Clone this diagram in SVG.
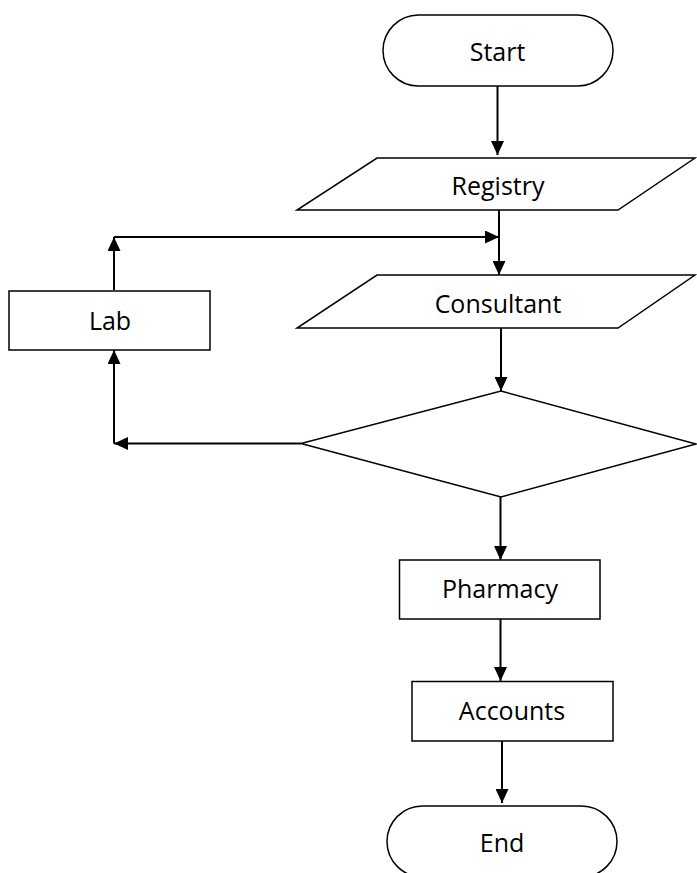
<svg xmlns="http://www.w3.org/2000/svg" width="697" height="873" viewBox="0 0 697 873">
<defs>
<style>
.s{fill:#fff;stroke:#000;stroke-width:1.5}
.t{font-family:"Open Sans","Liberation Sans",sans-serif;font-size:25px;fill:#000;text-anchor:middle}
.c{fill:none;stroke:#000;stroke-width:2}
</style>
<marker id="ah" viewBox="0 0 14 13" refX="14" refY="6.5" markerWidth="14" markerHeight="13" markerUnits="userSpaceOnUse" orient="auto">
<path d="M0,0 L14,6.5 L0,13 Z" fill="#000"/>
</marker>
</defs>
<rect width="697" height="873" fill="#fff"/>
<g id="connectors">
<path class="c" d="M497.5,86 V155" marker-end="url(#ah)"/>
<path class="c" d="M499,210 V275" marker-end="url(#ah)"/>
<path class="c" d="M114,290 V237" marker-end="url(#ah)"/>
<path class="c" d="M114,237 H499" marker-end="url(#ah)"/>
<path class="c" d="M501,328 V391" marker-end="url(#ah)"/>
<path class="c" d="M301,443.5 H114" marker-end="url(#ah)"/>
<path class="c" d="M114,443.5 V350" marker-end="url(#ah)"/>
<path class="c" d="M500.5,497 V560" marker-end="url(#ah)"/>
<path class="c" d="M500.5,619 V681" marker-end="url(#ah)"/>
<path class="c" d="M502,741 V803" marker-end="url(#ah)"/>
</g>
<g id="start">
<rect class="s" x="383" y="15" width="230" height="71" rx="35.5" ry="35.5"/>
<text class="t" x="497.5" y="61">Start</text>
</g>
<g id="registry">
<polygon class="s" points="377,158 695,158 618,210 297,210"/>
<text class="t" x="498" y="195">Registry</text>
</g>
<g id="consultant">
<polygon class="s" points="377,275 695,275 618,328 297,328"/>
<text class="t" x="498" y="313">Consultant</text>
</g>
<g id="lab">
<rect class="s" x="9" y="291" width="201" height="59"/>
<text class="t" x="110" y="330">Lab</text>
</g>
<g id="decision">
<polygon class="s" points="501,391 696,444 501,497 301,443.5"/>
</g>
<g id="pharmacy">
<rect class="s" x="399.5" y="560" width="200.5" height="59"/>
<text class="t" x="500" y="598">Pharmacy</text>
</g>
<g id="accounts">
<rect class="s" x="412" y="681.5" width="201" height="59.5"/>
<text class="t" x="512" y="720">Accounts</text>
</g>
<g id="end">
<rect class="s" x="387" y="806" width="230" height="71" rx="35.5" ry="35.5"/>
<text class="t" x="502" y="852">End</text>
</g>
</svg>
